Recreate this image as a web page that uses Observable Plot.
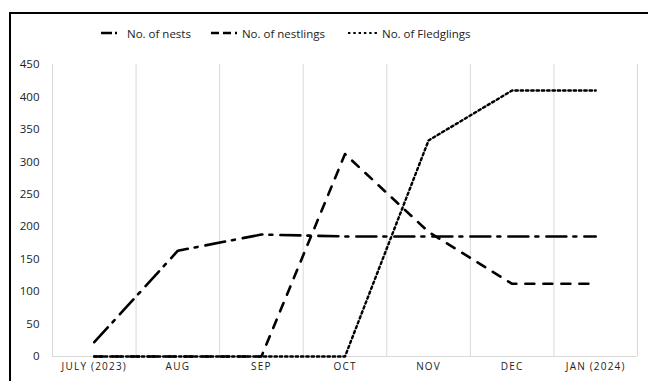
<!DOCTYPE html>
<html>
<head>
<meta charset="utf-8">
<script src="https://cdn.jsdelivr.net/npm/d3@7"></script>
<script src="https://cdn.jsdelivr.net/npm/@observablehq/plot@0.6"></script>
<style>
  html, body { margin: 0; padding: 0; background: #fff; }
  body { overflow: hidden; }
  #chart { position: absolute; left: 0; top: 0; }
  #legend { position: absolute; left: 101px; top: 24px; height: 18px; display: flex; align-items: center;
            font-family: "Open Sans", sans-serif; font-size: 11.5px; color: #222; white-space: nowrap; }
  #legend svg { display: block; }
  [aria-label^="x-axis"] text { font-size: 10px; letter-spacing: 1.2px; }
</style>
</head>
<body>
<div id="chart"></div>
<div id="legend"></div>
<script>
const months = ["JULY (2023)", "AUG", "SEP", "OCT", "NOV", "DEC", "JAN (2024)"];
const nests = [22, 163, 188, 185, 185, 185, 185];
const nestlings = [0, 0, 0, 312, 192, 112, 112];
const fledglings = [0, 0, 0, 0, 333, 410, 410];
const yTicks = [0, 50, 100, 150, 200, 250, 300, 350, 400, 450];
const seriesNames = ["No. of nests", "No. of nestlings", "No. of Fledglings"];

const styles = [
  {dash: "20,7,3,8", legendDash: "11,3,2,3", legendW: 18},
  {dash: "9,9", legendDash: "8,4,8,4,2", legendW: 29},
  {dash: "2.4,2.9", legendDash: "2.4,2.9", legendW: 30}
];

const idx = months.map((_, i) => i);
const boundaries = months.map((_, i) => i - 0.5).concat([months.length - 0.5]);
const rows = (vals) => vals.map((v, i) => ({i, v}));

const plot = Plot.plot({
  width: 648,
  height: 381,
  marginTop: 64,
  marginBottom: 25,
  marginLeft: 52,
  marginRight: 11,
  style: {fontFamily: "Open Sans, sans-serif", fontSize: "11.5px", color: "#222", background: "transparent"},
  x: {type: "linear", domain: [-0.5, months.length - 0.5], ticks: idx, tickFormat: i => months[i], tickSize: 0, tickPadding: 6, label: null},
  y: {domain: [0, 450], ticks: yTicks, tickSize: 0, tickPadding: 13, label: null},
  marks: [
    Plot.ruleX(boundaries, {stroke: "#d9d9d9", strokeWidth: 1}),
    Plot.ruleY([0], {stroke: "#d9d9d9", strokeWidth: 1}),
    Plot.line(rows(nests), {x: "i", y: "v", stroke: "#000", strokeWidth: 2.6, strokeDasharray: styles[0].dash, strokeLinejoin: "round"}),
    Plot.line(rows(fledglings), {x: "i", y: "v", stroke: "#000", strokeWidth: 2.4, strokeDasharray: styles[2].dash}),
    Plot.line(rows(nestlings), {x: "i", y: "v", stroke: "#000", strokeWidth: 2.6, strokeDasharray: styles[1].dash, strokeLinejoin: "round"})
  ]
});
// chart-area border (top and left edges, as in the cropped original)
d3.select(plot).append("path")
  .attr("d", "M648,13H10V381")
  .attr("fill", "none")
  .attr("stroke", "#000")
  .attr("stroke-width", 2);
document.getElementById("chart").appendChild(plot);

// legend
const legend = document.getElementById("legend");
const gapsBefore = [0, 20, 23];
const gapsAfter = [8, 2, 4];
seriesNames.forEach((name, k) => {
  const st = styles[k];
  const sw = document.createElementNS("http://www.w3.org/2000/svg", "svg");
  sw.setAttribute("width", st.legendW);
  sw.setAttribute("height", 6);
  sw.style.marginLeft = gapsBefore[k] + "px";
  sw.style.marginRight = gapsAfter[k] + "px";
  const ln = document.createElementNS("http://www.w3.org/2000/svg", "line");
  ln.setAttribute("x1", 0); ln.setAttribute("x2", st.legendW);
  ln.setAttribute("y1", 3); ln.setAttribute("y2", 3);
  ln.setAttribute("stroke", "#000");
  ln.setAttribute("stroke-width", k === 2 ? 2.2 : 2.6);
  ln.setAttribute("stroke-dasharray", st.legendDash);
  sw.appendChild(ln);
  legend.appendChild(sw);
  const t = document.createElement("span");
  t.textContent = name;
  legend.appendChild(t);
});
</script>
</body>
</html>
